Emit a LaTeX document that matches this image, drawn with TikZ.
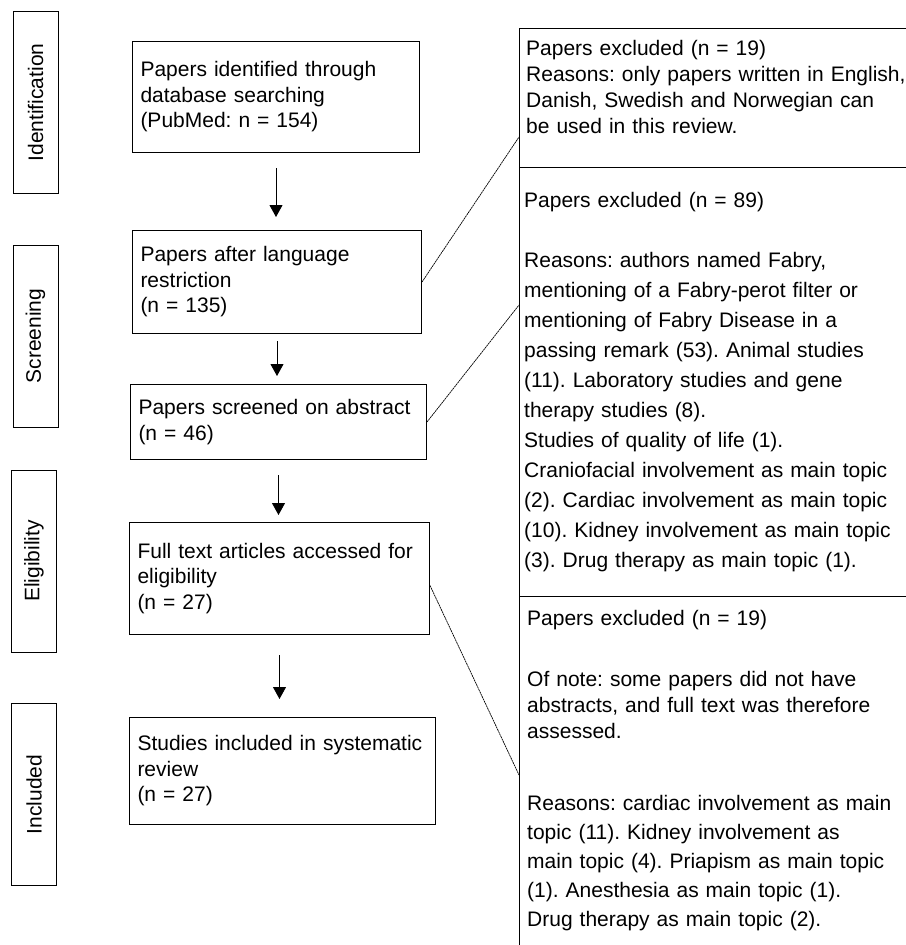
\documentclass[tikz,border=0pt]{standalone}
\usepackage{fontspec}
\setmainfont{Liberation Sans}
\usetikzlibrary{arrows.meta}
\frenchspacing

\tikzset{
  stagebox/.style={draw, line width=1pt, minimum width=182pt, minimum height=45pt,
    rotate=90, inner sep=0pt, font=\fontsize{21}{25}\selectfont},
  flowbox/.style={draw, line width=1pt, anchor=north west, align=left,
    inner xsep=8pt, inner ysep=0pt, font=\fontsize{21}{25.5}\selectfont},
  notetext/.style={anchor=base west, align=left, inner sep=0pt, text width=400pt,
    font=\fontsize{21}{26}\selectfont},
  flow/.style={-{Triangle[width=13pt,length=12pt]}, line width=0.9pt},
  link/.style={line width=0.7pt, dash pattern=on 2pt off 0.6pt}
}

\begin{document}
\begin{tikzpicture}[x=1pt, y=-1pt]
        \useasboundingbox (0,0) rectangle (905,945);

        % Etapes a gauche
        \node[stagebox] (ident) at (35.5,102.5) {Identification};
        \node[stagebox] (screen) at (35.5,336) {Screening};
        \node[stagebox] (elig) at (34,561) {Eligibility};
        \node[stagebox] (incl) at (34,794.5) {Included};

        % Boites du flux
        \node[flowbox, text width=271pt, minimum height=111pt] (b1) at (132,41)
            {Papers identified through\\database searching\\(PubMed: n = 154)};
        \node[flowbox, text width=273pt, minimum height=103pt] (b2) at (132,230)
            {Papers after language\\restriction\\(n = 135)};
        \node[flowbox, text width=280pt, minimum height=75pt] (b3) at (130,384)
            {Papers screened on abstract\\(n = 46)};
        \node[flowbox, text width=284pt, minimum height=112pt] (b4) at (129,522)
            {Full text articles accessed for\\eligibility\\(n = 27)};
        \node[flowbox, text width=290pt, minimum height=107pt] (b5) at (129,717)
            {Studies included in systematic\\review\\(n = 27)};

        % Fleches
        \foreach \a/\b/\s/\e in {b1/b2/15/13, b2/b3/7/8, b3/b4/15/7, b4/b5/20/18}
            \draw[flow, shorten <=\s pt, shorten >=\e pt] (\a.south) -- (\a.south |- \b.north);

        % Panneau des exclusions
        \draw[line width=1pt] (519,945) -- (519,28) -- (910,28);
        \draw[line width=1pt] (519,167) -- (910,167);
        \draw[line width=1pt] (519,596) -- (910,596);

        \node[notetext] (r1) at (526,55)
            {Papers excluded (n = 19)\\
             Reasons: only papers written in English,\\
             Danish, Swedish and Norwegian can\\
             be used in this review.};
        \node[notetext, font=\fontsize{21}{30}\selectfont] (r2) at (524,207)
            {Papers excluded (n = 89)\\[30pt]
             Reasons: authors named Fabry,\\
             mentioning of a Fabry-perot filter or\\
             mentioning of Fabry Disease in a\\
             passing remark (53). Animal studies\\
             (11). Laboratory studies and gene\\
             therapy studies (8).\\
             Studies of quality of life (1).\\
             Craniofacial involvement as main topic\\
             (2). Cardiac involvement as main topic\\
             (10). Kidney involvement as main topic\\
             (3). Drug therapy as main topic (1).};
        \node[notetext] (r3) at (527,625)
            {Papers excluded (n = 19)\\[35pt]
             Of note: some papers did not have\\
             abstracts, and full text was therefore\\
             assessed.\\[46pt]
             Reasons: cardiac involvement as main\\[3pt]
             topic (11). Kidney involvement as\\[3pt]
             main topic (4). Priapism as main topic\\[3pt]
             (1). Anesthesia as main topic (1).\\[3pt]
             Drug therapy as main topic (2).};

        % Liens vers les exclusions
        \coordinate (p1) at (519,137);
        \coordinate (p2) at (519,305);
        \coordinate (p3) at (519,775);
        \draw[link] (b2.east) -- (p1);
        \draw[link] (b3.east) -- (p2);
        \draw[link] ([yshift=-7pt]b4.east) -- (p3);
    \end{tikzpicture}
\end{document}
